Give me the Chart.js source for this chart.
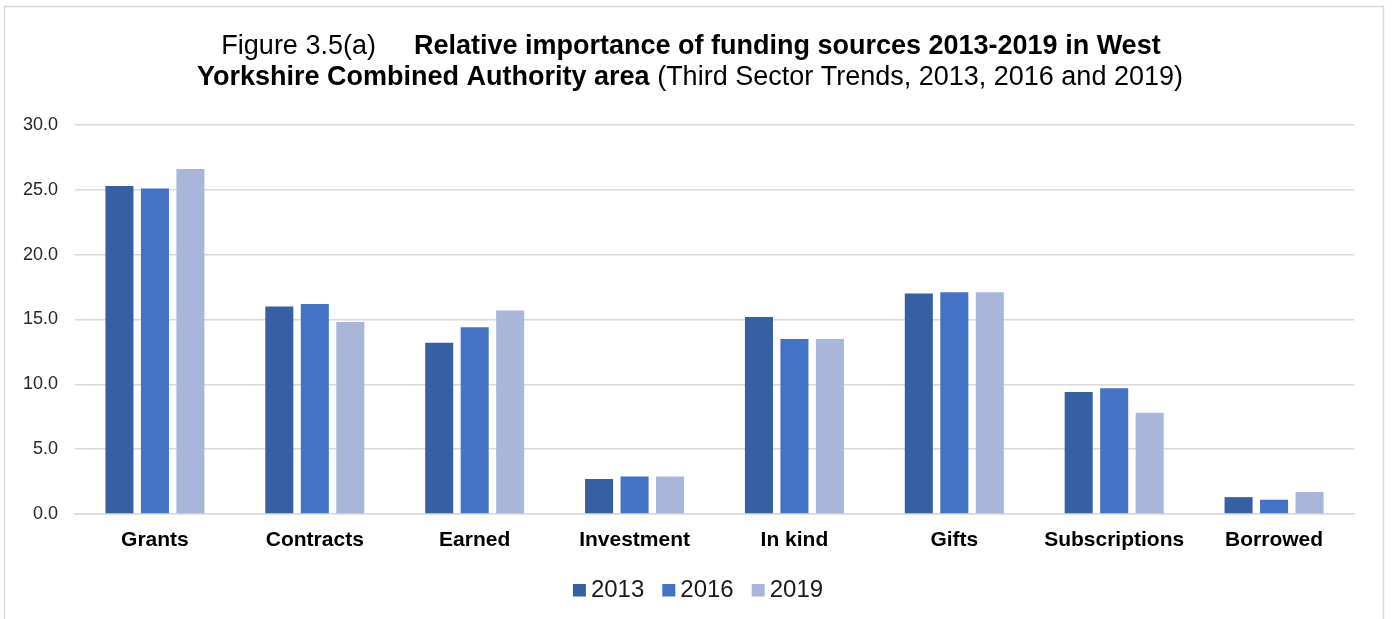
<!DOCTYPE html>
<html>
<head>
<meta charset="utf-8">
<script src="https://cdn.jsdelivr.net/npm/chart.js@4"></script>
<style>
html,body{margin:0;padding:0;background:#fff;}
#wrap{width:1392px;height:619px;}
</style>
</head>
<body>
<div id="wrap"><canvas id="c" width="1392" height="619"></canvas></div>
<script>
const categories = ["Grants","Contracts","Earned","Investment","In kind","Gifts","Subscriptions","Borrowed"];
const seriesNames = ["2013","2016","2019"];
const values2013 = [25.3, 16.0, 13.2, 2.7, 15.2, 17.0, 9.4, 1.3];
const values2016 = [25.1, 16.2, 14.4, 2.9, 13.5, 17.1, 9.7, 1.1];
const values2019 = [26.6, 14.8, 15.7, 2.9, 13.5, 17.1, 7.8, 1.7];
const yTicks = [0, 5, 10, 15, 20, 25, 30];
const titleLine1 = [["Figure 3.5(a)", false], ["Relative importance of funding sources 2013-2019 in West", true]];
const titleLine2 = [["Yorkshire Combined Authority area", true], [" (Third Sector Trends, 2013, 2016 and 2019)", false]];

const FONT = "'Liberation Sans', Arial, sans-serif";

const framePlugin = {
  id: 'frame',
  beforeDraw(chart) {
    const ctx = chart.ctx;
    ctx.save();
    ctx.fillStyle = '#fff';
    ctx.fillRect(0, 0, chart.width, chart.height);
    ctx.strokeStyle = '#d9d9d9';
    ctx.lineWidth = 1.5;
    ctx.strokeRect(4.5, 6.5, 1379, 700);
    ctx.restore();
  }
};

const titlePlugin = {
  id: 'mixedTitle',
  afterDraw(chart) {
    const ctx = chart.ctx;
    ctx.save();
    ctx.fillStyle = '#000';
    ctx.textBaseline = 'alphabetic';
    const size = 27;
    function drawLine(parts, baseY, gap, cx) {
      let widths = parts.map(p => { ctx.font = (p[1] ? 'bold ' : '') + size + 'px ' + FONT; return ctx.measureText(p[0]).width; });
      const total = widths.reduce((a,b)=>a+b,0) + gap*(parts.length-1);
      let x = cx - total/2;
      parts.forEach((p,i) => {
        ctx.font = (p[1] ? 'bold ' : '') + size + 'px ' + FONT;
        ctx.fillText(p[0], x, baseY);
        x += widths[i] + gap;
      });
    }
    drawLine(titleLine1, 54, 38, 691);
    drawLine(titleLine2, 85, 0, 690);
    ctx.restore();
  }
};

const legendPlugin = {
  id: 'bottomLegend',
  afterDraw(chart) {
    const ctx = chart.ctx;
    ctx.save();
    ctx.font = '24px ' + FONT;
    ctx.textBaseline = 'middle';
    const box = 13, gapText = 5, spacing = 18;
    const items = chart.data.datasets.map(d => ({ text: d.label, color: d.backgroundColor, w: ctx.measureText(d.label).width }));
    const total = items.reduce((a, it) => a + box + gapText + it.w, 0) + spacing * (items.length - 1);
    let x = 698 - total / 2;
    const cy = 590;
    items.forEach(it => {
      ctx.fillStyle = it.color;
      ctx.fillRect(x, cy - 6, box, 12.5);
      ctx.fillStyle = '#1a1a1a';
      ctx.fillText(it.text, x + box + gapText, cy);
      x += box + gapText + it.w + spacing;
    });
    ctx.restore();
  }
};

new Chart(document.getElementById('c'), {
  type: 'bar',
  data: {
    labels: categories,
    datasets: [
      { label: seriesNames[0], data: values2013, backgroundColor: '#375FA3' },
      { label: seriesNames[1], data: values2016, backgroundColor: '#4472C4' },
      { label: seriesNames[2], data: values2019, backgroundColor: '#A9B6DA' }
    ]
  },
  options: {
    responsive: false,
    animation: false,
    devicePixelRatio: 1,
    layout: { padding: { top: 125, right: 38, bottom: 55, left: 0 } },
    datasets: { bar: { categoryPercentage: 0.666, barPercentage: 0.79 } },
    plugins: {
      title: { display: false },
      tooltip: { enabled: false },
      legend: { display: false }
    },
    scales: {
      x: {
        grid: { display: false, drawTicks: false },
        border: { display: true, color: '#d9d9d9', width: 1.5 },
        ticks: { color: '#000', font: { family: FONT, size: 21, weight: 'bold' }, padding: 14, maxRotation: 0 },
        afterFit(s) { s.height = 50; }
      },
      y: {
        min: 0, max: 30,
        afterBuildTicks(s) { s.ticks = yTicks.map(v => ({ value: v })); },
        grid: { color: '#d9d9d9', lineWidth: 1.5, drawTicks: false },
        border: { display: false },
        ticks: { color: '#262626', font: { family: FONT, size: 18 }, padding: 17, callback: v => Number(v).toFixed(1) },
        afterFit(s) { s.width = 75; }
      }
    }
  },
  plugins: [framePlugin, titlePlugin, legendPlugin]
});
</script>
</body>
</html>
